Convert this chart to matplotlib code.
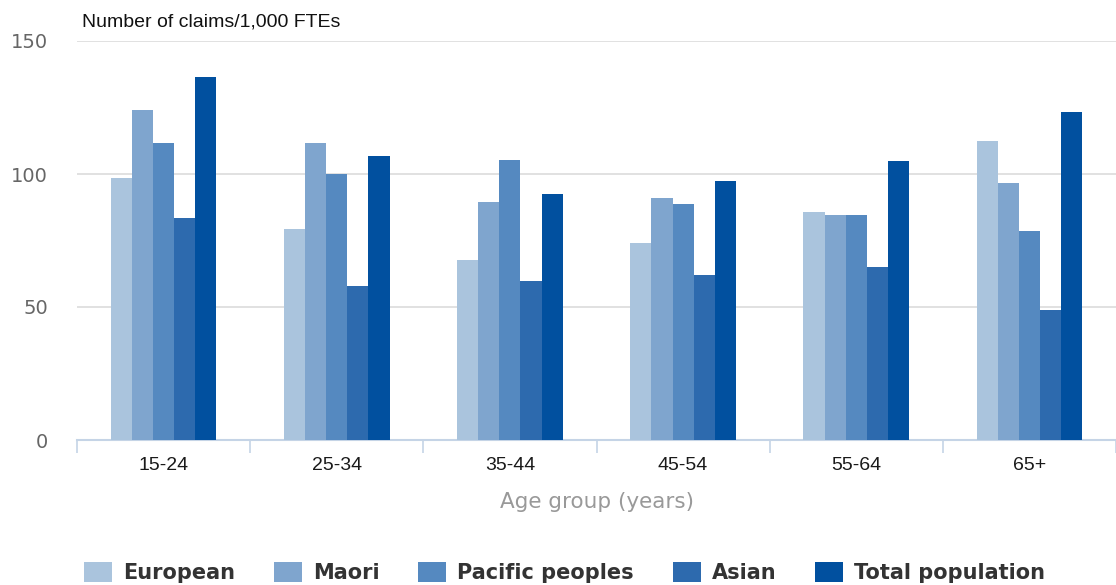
import numpy as np
import matplotlib
matplotlib.use("Agg")
import matplotlib.pyplot as plt

# data
age_groups = ["15-24", "25-34", "35-44", "45-54", "55-64", "65+"]
series_names = ["European", "Maori", "Pacific peoples", "Asian", "Total population"]
european = [98.5, 79.3, 67.7, 74.2, 85.8, 112.5]
maori = [124.0, 111.7, 89.5, 91.1, 84.5, 96.5]
pacific = [111.7, 100.0, 105.3, 88.7, 84.5, 78.5]
asian = [83.5, 58.0, 59.8, 62.0, 64.9, 48.9]
total = [136.5, 106.8, 92.5, 97.3, 104.8, 123.4]
y_ticks = [0, 50, 100, 150]

colors = ["#aac4dd", "#7fa5ce", "#5589c0", "#2d6aae", "#01509f"]
all_series = [european, maori, pacific, asian, total]

fig = plt.figure(figsize=(11.16, 5.85), dpi=100)
ax = fig.add_axes([77 / 1116, (585 - 440) / 585, (1116 - 77) / 1116, (440 - 41) / 585])

x = np.arange(len(age_groups))
bar_w = 0.122
for i, (vals, col, name) in enumerate(zip(all_series, colors, series_names)):
    ax.bar(x + (i - 2) * bar_w, vals, width=bar_w, color=col, label=name, zorder=3)

ax.set_ylim(0, 150)
ax.set_xlim(-0.5, 5.47)
ax.set_yticks(y_ticks)
ax.set_yticklabels([str(v) for v in y_ticks], fontsize=14, color="#666666", family="DejaVu Sans")
ax.tick_params(axis="y", length=0, pad=21)
ax.grid(axis="y", color="#dcdcdc", linewidth=1.2, zorder=0)

ax.set_xticks(x)
ax.set_xticklabels(age_groups, fontsize=14, color="#1a1a1a", family="Liberation Sans")
ax.tick_params(axis="x", which="major", length=0, pad=12)
ax.set_xticks(np.arange(-0.5, 6, 1), minor=True)
ax.tick_params(axis="x", which="minor", length=9, width=1.2, color="#c5d4e6")

for s in ["top", "right", "left"]:
    ax.spines[s].set_visible(False)
ax.spines["bottom"].set_color("#c5d4e6")
ax.spines["bottom"].set_linewidth(1.5)

ax.set_xlabel("Age group (years)", fontsize=15.5, color="#999999", family="DejaVu Sans", labelpad=13)
fig.text(82 / 1116, 1 - 22 / 585, "Number of claims/1,000 FTEs", fontsize=14,
         family="Liberation Sans", color="#111111", va="center", ha="left")

fig.legend(loc="center", bbox_to_anchor=(0.506, 0.022), ncol=5, frameon=False,
           prop={"family": "DejaVu Sans", "weight": "bold", "size": 15},
           labelcolor="#333333", handlelength=1.35, handleheight=1.1,
           handletextpad=0.53, columnspacing=1.85)

fig.savefig("out.png", dpi=100)
